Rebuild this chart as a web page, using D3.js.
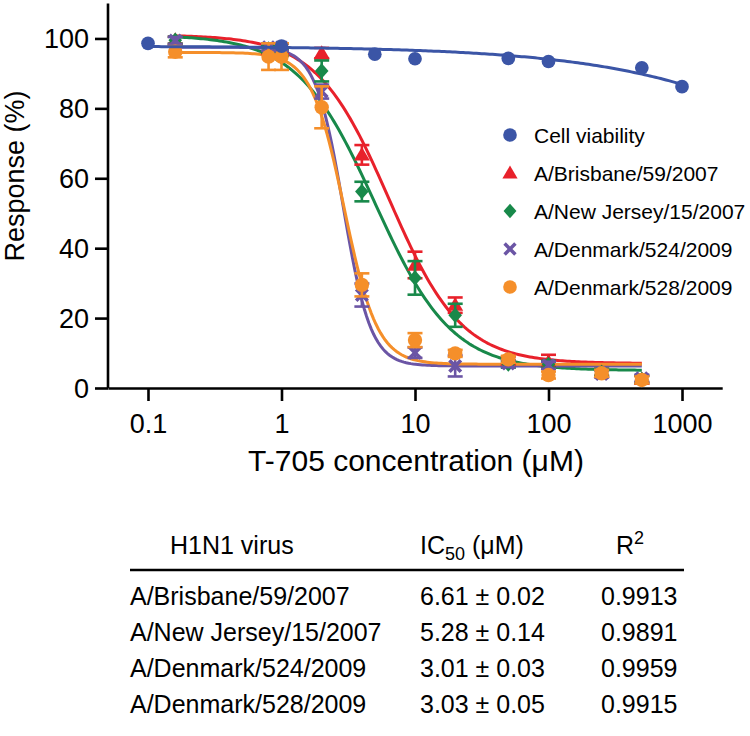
<!DOCTYPE html>
<html>
<head>
<meta charset="utf-8">
<script src="https://cdn.jsdelivr.net/npm/d3@7"></script>
<style>
  html, body { margin: 0; padding: 0; background: #fff; }
  svg { display: block; font-family: "Liberation Sans", Arial, Helvetica, sans-serif; }
</style>
</head>
<body>
<svg id="chart" width="750" height="736"></svg>
<script>
// ---------- data ----------
const xTicks = [0.1, 1, 10, 100, 1000];
const xTickLabels = ["0.1", "1", "10", "100", "1000"];
const yTicks = [0, 20, 40, 60, 80, 100];

const seriesNames = ["Cell viability", "A/Brisbane/59/2007", "A/New Jersey/15/2007", "A/Denmark/524/2009", "A/Denmark/528/2009"];
const seriesColors = ["#3b55a6", "#e8212b", "#18894a", "#6b55a5", "#f58f2a"];
const seriesShapes = ["circle", "triangle", "diamond", "x", "circle"];

// cell viability (no error bars)
const viabilityConc = [0.1, 1, 5, 10, 50, 100, 500, 1000];
const viabilityVals = [98.6, 97.8, 95.5, 94.2, 94.3, 93.4, 91.6, 86.2];

// virus inhibition
const virusConc = [0.16, 0.8, 1, 2, 4, 10, 20, 50, 100, 250, 500];
const brisbaneVals  = [99.5, 96.8, 96.5, 95.8, 66.7, 35.2, 23.7, 8.0, 7.5, 4.5, 2.5];
const brisbaneErr   = [1.0, 1.0, 1.0, 1.5, 2.8, 3.8, 2.2, 1.0, 2.0, 1.0, 1.0];
const newJerseyVals = [99.5, 97.0, 96.0, 90.7, 56.2, 31.5, 20.8, 6.8, 6.8, 4.5, 2.5];
const newJerseyErr  = [1.0, 1.0, 1.0, 3.0, 2.8, 4.8, 3.3, 1.0, 1.0, 1.0, 1.0];
const den524Vals    = [99.4, 97.5, 97.5, 84.8, 26.6, 10.1, 6.3, 7.0, 6.5, 4.0, 2.8];
const den524Err     = [1.0, 1.0, 1.0, 2.0, 3.3, 1.5, 3.0, 1.0, 1.0, 1.0, 1.0];
const den528Vals    = [96.2, 94.8, 94.8, 80.3, 29.5, 13.7, 9.9, 8.2, 3.7, 4.2, 2.3];
const den528Err     = [1.6, 3.8, 3.8, 6.0, 3.3, 2.0, 1.0, 1.0, 1.0, 1.0, 1.0];

// 4-parameter logistic fits (top, bottom, EC50, Hill) and fitted ranges
const fitTop    = [97.8, 101, 101, 97.5, 96.0];
const fitBottom = [0, 7.0, 5.0, 6.3, 6.8];
const fitEC50   = [63000, 6.4, 5.0, 2.9, 2.95];
const fitHill   = [0.5, 1.6, 1.5, 4.2, 3.5];
const fitFrom   = [0.1, 0.16, 0.16, 0.16, 0.16];
const fitTo     = [1000, 500, 500, 500, 500];

// table
const tableStrains = ["A/Brisbane/59/2007", "A/New Jersey/15/2007", "A/Denmark/524/2009", "A/Denmark/528/2009"];
const tableIC50 = ["6.61 ± 0.02", "5.28 ± 0.14", "3.01 ± 0.03", "3.03 ± 0.05"];
const tableR2 = ["0.9913", "0.9891", "0.9959", "0.9915"];

// ---------- chart ----------
const svg = d3.select("#chart");
const x = d3.scaleLog().domain([0.05, 2000]).range([107.8, 722.2]);
const y = d3.scaleLinear().domain([0, 110]).range([388, 3.5]);

const virusData = [
  null,
  {vals: brisbaneVals, err: brisbaneErr},
  {vals: newJerseyVals, err: newJerseyErr},
  {vals: den524Vals, err: den524Err},
  {vals: den528Vals, err: den528Err}
];

function logistic(i, c) {
  return fitBottom[i] + (fitTop[i] - fitBottom[i]) / (1 + Math.pow(c / fitEC50[i], fitHill[i]));
}

function symbolPath(shape, s) {
  if (shape === "circle") return d3.symbol(d3.symbolCircle, Math.PI * (7.2 * s) * (7.2 * s))();
  if (shape === "triangle") {
    const w = 8 * s, h = 13.5 * s;
    return `M0,${-h * 0.58}L${w},${h * 0.42}L${-w},${h * 0.42}Z`;
  }
  if (shape === "diamond") {
    const w = 6.8 * s, h = 7.6 * s;
    return `M0,${-h}L${w},0L0,${h}L${-w},0Z`;
  }
  if (shape === "x") {
    const a = 7 * s, t = 2.6 * s;
    const p = [[-a + t, -a], [0, -t], [a - t, -a], [a, -a + t], [t, 0], [a, a - t], [a - t, a], [0, t], [-a + t, a], [-a, a - t], [-t, 0], [-a, -a + t]];
    return "M" + p.map(q => q.join(",")).join("L") + "Z";
  }
}

// axes
const xAxis = d3.axisBottom(x).tickValues(xTicks).tickFormat((d, i) => xTickLabels[i]).tickSize(13).tickSizeOuter(0).tickPadding(6);
const gx = svg.append("g").attr("transform", "translate(0,388)").call(xAxis);
const yAxis = d3.axisLeft(y).tickValues(yTicks).tickSize(13).tickSizeOuter(0).tickPadding(6);
const gy = svg.append("g").attr("transform", "translate(108,0)").call(yAxis);
[gx, gy].forEach(g => {
  g.selectAll("path.domain").attr("stroke", "#000").attr("stroke-width", 2.6);
  g.selectAll(".tick line").attr("stroke", "#000").attr("stroke-width", 2.6);
  g.selectAll(".tick text").attr("fill", "#000").style("font-size", "27px").style("font-family", '"Liberation Sans", Arial, sans-serif');
});
gy.select("path.domain").attr("d", `M0,${y(110)}V${y(0)}`);
gy.selectAll(".tick text").attr("dy", "0.35em");
gx.selectAll(".tick text").attr("dy", "0.95em");

svg.append("text")
  .attr("transform", "translate(24,176) rotate(-90)")
  .attr("text-anchor", "middle")
  .style("font-size", "27px")
  .text("Response (%)");

svg.append("text")
  .attr("x", 416).attr("y", 471)
  .attr("text-anchor", "middle")
  .style("font-size", "30px")
  .text("T-705 concentration (μM)");

// curves
const plot = svg.append("g");
const line = d3.line().x(d => x(d[0])).y(d => y(d[1]));
function curvePoints(i) {
  const pts = [];
  const n = 200;
  const a = Math.log10(fitFrom[i]), b = Math.log10(fitTo[i]);
  for (let k = 0; k <= n; k++) {
    const c = Math.pow(10, a + (b - a) * k / n);
    pts.push([c, logistic(i, c)]);
  }
  return pts;
}
[1, 2, 3, 4].forEach(i => {
  plot.append("path").attr("d", line(curvePoints(i)))
    .attr("fill", "none").attr("stroke", seriesColors[i]).attr("stroke-width", 3);
});

// error bars + markers for viruses
[1, 2, 3, 4].forEach(i => {
  const g = plot.append("g");
  const dat = virusConc.map((c, k) => ({c, v: virusData[i].vals[k], e: virusData[i].err[k]}));
  const eb = g.selectAll("g.eb").data(dat).enter().append("g")
    .attr("stroke", seriesColors[i]).attr("stroke-width", 2.6);
  eb.append("line").attr("x1", d => x(d.c)).attr("x2", d => x(d.c)).attr("y1", d => y(d.v - d.e)).attr("y2", d => y(d.v + d.e));
  eb.append("line").attr("x1", d => x(d.c) - 7.5).attr("x2", d => x(d.c) + 7.5).attr("y1", d => y(d.v - d.e)).attr("y2", d => y(d.v - d.e));
  eb.append("line").attr("x1", d => x(d.c) - 7.5).attr("x2", d => x(d.c) + 7.5).attr("y1", d => y(d.v + d.e)).attr("y2", d => y(d.v + d.e));
  g.selectAll("path.m").data(dat).enter().append("path")
    .attr("d", symbolPath(seriesShapes[i], 1))
    .attr("transform", d => `translate(${x(d.c)},${y(d.v)})`)
    .attr("fill", seriesColors[i]);
});

// cell viability curve and points on top
plot.append("path").attr("d", line(curvePoints(0)))
  .attr("fill", "none").attr("stroke", seriesColors[0]).attr("stroke-width", 3);
plot.selectAll("path.blue").data(viabilityConc.map((c, k) => ({c, v: viabilityVals[k]}))).enter().append("path")
  .attr("d", symbolPath("circle", 0.95))
  .attr("transform", d => `translate(${x(d.c)},${y(d.v)})`)
  .attr("fill", seriesColors[0]);

// legend
const legend = svg.append("g");
seriesNames.forEach((name, i) => {
  const cy = 135 + i * 38;
  legend.append("path").attr("d", symbolPath(seriesShapes[i], 0.95))
    .attr("transform", `translate(510,${cy})`).attr("fill", seriesColors[i]);
  legend.append("text").attr("x", 534).attr("y", cy + 7.5)
    .style("font-size", "21px").text(name);
});

// table
const table = svg.append("g").style("font-size", "25px");
table.append("text").attr("x", 170).attr("y", 554).text("H1N1 virus");
const ich = table.append("text").attr("x", 420).attr("y", 554);
ich.append("tspan").text("IC");
ich.append("tspan").attr("dy", 6).style("font-size", "18px").text("50");
ich.append("tspan").attr("dy", -6).text(" (μM)");
const r2h = table.append("text").attr("x", 616).attr("y", 554);
r2h.append("tspan").text("R");
r2h.append("tspan").attr("dy", -10).style("font-size", "18px").text("2");
table.append("line").attr("x1", 130).attr("x2", 684).attr("y1", 570).attr("y2", 570)
  .attr("stroke", "#000").attr("stroke-width", 2.6);
tableStrains.forEach((s, k) => {
  const by = 605 + k * 36;
  table.append("text").attr("x", 130).attr("y", by).text(s);
  table.append("text").attr("x", 420).attr("y", by).text(tableIC50[k]);
  table.append("text").attr("x", 601).attr("y", by).text(tableR2[k]);
});
</script>
</body>
</html>
